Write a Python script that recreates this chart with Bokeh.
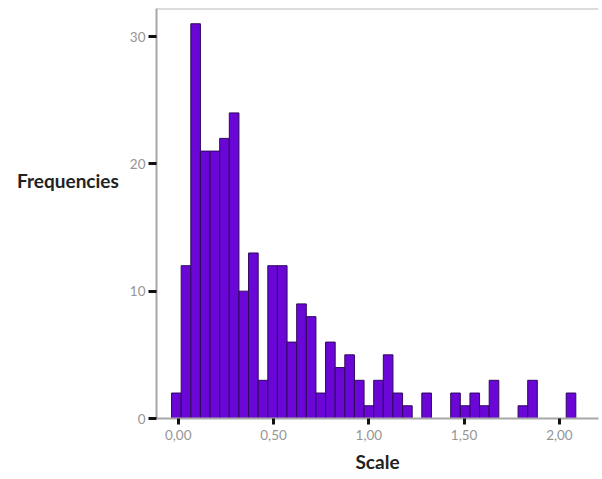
from bokeh.plotting import figure
from bokeh.models import FixedTicker, Span, ColumnDataSource, Range1d
from bokeh.embed import file_html
from bokeh.resources import INLINE

# Histogram data
bin_start = -0.035
bin_width = 0.0505
counts = [2, 12, 31, 21, 21, 22, 24, 10, 13, 3, 12, 12, 6, 9, 8, 2, 6, 4, 5, 3,
          1, 3, 5, 2, 1, 0, 2, 0, 0, 2, 1, 2, 1, 3, 0, 0, 1, 3, 0, 0, 0, 2]
x_ticks = [0, 0.5, 1.0, 1.5, 2.0]
x_tick_labels = ["0,00", "0,50", "1,00", "1,50", "2,00"]
y_ticks = [0, 10, 20, 30]
x_title = "Scale"
y_title = "Frequencies"

left, right, top = [], [], []
for i, c in enumerate(counts):
    if c > 0:
        left.append(bin_start + i * bin_width)
        right.append(bin_start + (i + 1) * bin_width)
        top.append(c)
src = ColumnDataSource(dict(left=left, right=right, top=top, bottom=[0] * len(top)))

x0, x1 = -0.114, 2.205
y0, y1 = 0, 32.2

p = figure(width=600, height=476, output_backend="svg", toolbar_location=None,
           x_range=Range1d(x0, x1), y_range=Range1d(y0, y1),
           min_border_left=156, min_border_right=2, min_border_top=8,
           min_border_bottom=58)
p.outline_line_color = None
p.xgrid.visible = False
p.ygrid.visible = False
p.background_fill_color = "white"

p.quad(left="left", right="right", top="top", bottom="bottom", source=src,
       fill_color="#6a06d6", line_color="#2e0a5c", line_width=1)

top_line = Span(location=y1, dimension="width", line_color="#b8b8b8", line_width=2)
p.add_layout(top_line)

for ax in (p.xaxis[0], p.yaxis[0]):
    ax.axis_line_color = "#a8a8a8"
    ax.axis_line_width = 2
    ax.major_tick_line_color = "#111111"
    ax.major_tick_line_width = 3
    ax.major_tick_in = 0
    ax.minor_tick_line_color = None
    ax.major_label_text_color = "#959595"
    ax.major_label_text_font = "Lato"
    ax.major_label_text_font_size = "13.5px"
    ax.axis_label_text_font = "Lato"
    ax.axis_label_text_font_style = "bold"
    ax.axis_label_text_font_size = "19px"
    ax.axis_label_text_color = "#222222"

p.xaxis.ticker = FixedTicker(ticks=x_ticks)
p.xaxis.major_label_overrides = {t: l for t, l in zip(x_ticks, x_tick_labels)}
p.xaxis.major_tick_out = 6
p.xaxis.major_label_standoff = 5
p.xaxis.axis_label = x_title
p.xaxis.axis_label_standoff = 7

p.yaxis.ticker = FixedTicker(ticks=y_ticks)
p.yaxis.major_tick_out = 8
p.yaxis.major_label_standoff = 3
p.yaxis.axis_label = y_title + "\n\n\n"
p.yaxis.axis_label_orientation = "horizontal"
p.yaxis.axis_label_text_line_height = 0.95
p.yaxis.axis_label_standoff = 8

open("out.html", "w").write(file_html(p, INLINE))
